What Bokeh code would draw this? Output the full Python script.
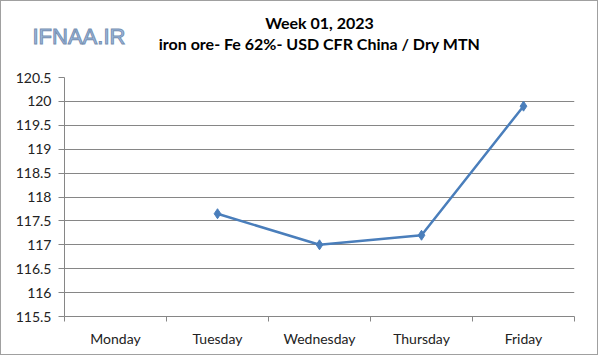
from bokeh.plotting import figure
from bokeh.models import FixedTicker, Title, Label, Range1d
from bokeh.embed import file_html
from bokeh.resources import INLINE

days = ["Monday", "Tuesday", "Wednesday", "Thursday", "Friday"]
price_days = ["Tuesday", "Wednesday", "Thursday", "Friday"]
prices = [117.65, 117.0, 117.2, 119.9]
y_ticks = [115.5, 116, 116.5, 117, 117.5, 118, 118.5, 119, 119.5, 120, 120.5]
title1 = "Week 01, 2023"
title2 = "iron ore- Fe 62%- USD CFR China / Dry MTN"
watermark = "IFNAA.IR"

xs = [days.index(d) + 0.5 for d in price_days]

p = figure(width=598, height=355, output_backend="svg", toolbar_location=None,
           x_range=Range1d(0, len(days)), y_range=Range1d(y_ticks[0], y_ticks[-1]),
           min_border_left=63, min_border_right=25, min_border_top=0, min_border_bottom=40)
p.outline_line_color = None
p.background_fill_color = "white"
p.border_fill_color = "white"

# watermark (innermost row above the frame, shifted into place)
wm = Label(x=-32, y=41, x_units="screen", y_units="screen", text=watermark,
           text_font="Liberation Sans", text_font_size="22px", text_color="#9dbde8",
           text_outline_color="#7890b0",
           text_baseline="middle", text_align="left")
p.add_layout(wm, "above")

# titles
sub = Title(text=title2, align="center", text_font="Lato", text_font_size="16px",
            text_font_style="bold", text_color="#000000", standoff=0, offset=-5)
main = Title(text=title1, align="center", text_font="Lato", text_font_size="16px",
             text_font_style="bold", text_color="#000000", standoff=0, offset=-5,
             padding=dict(left=0, right=0, top=9, bottom=0))
p.add_layout(sub, "above")
p.add_layout(main, "above")

# line
p.line(xs, prices, line_color="#4a7ebb", line_width=2.5)
p.scatter(xs, prices, marker="diamond", size=10, fill_color="#4a7ebb", line_color="#4a7ebb")

# axes
p.xaxis.ticker = FixedTicker(ticks=[i + 0.5 for i in range(len(days))],
                             minor_ticks=list(range(len(days) + 1)))
p.xaxis.major_label_overrides = {i + 0.5: d for i, d in enumerate(days)}
p.xaxis.major_tick_line_color = None
p.xaxis.minor_tick_line_color = "#868686"
p.xaxis.minor_tick_out = 5
p.xaxis.minor_tick_in = 0
p.xaxis.axis_line_color = "#868686"
p.xaxis.major_label_text_font = "Lato"
p.xaxis.major_label_text_font_size = "14px"
p.xaxis.major_label_text_color = "#222222"
p.xaxis.major_label_standoff = 7

p.yaxis.ticker = FixedTicker(ticks=y_ticks)
p.yaxis.major_label_overrides = {t: (str(int(t)) if t == int(t) else str(t)) for t in y_ticks}
p.yaxis.minor_tick_line_color = None
p.yaxis.major_tick_line_color = "#868686"
p.yaxis.major_tick_out = 6
p.yaxis.major_tick_in = 0
p.yaxis.axis_line_color = "#868686"
p.yaxis.major_label_text_font = "Lato"
p.yaxis.major_label_text_font_size = "14px"
p.yaxis.major_label_text_color = "#222222"
p.yaxis.major_label_standoff = 7

p.xgrid.grid_line_color = None
p.ygrid.ticker = FixedTicker(ticks=y_ticks)
p.ygrid.grid_line_color = "#868686"
p.ygrid.grid_line_width = 1

p.styles = {"border": "1px solid #a0a0a0"}

open("out.html", "w").write(file_html(p, INLINE))
